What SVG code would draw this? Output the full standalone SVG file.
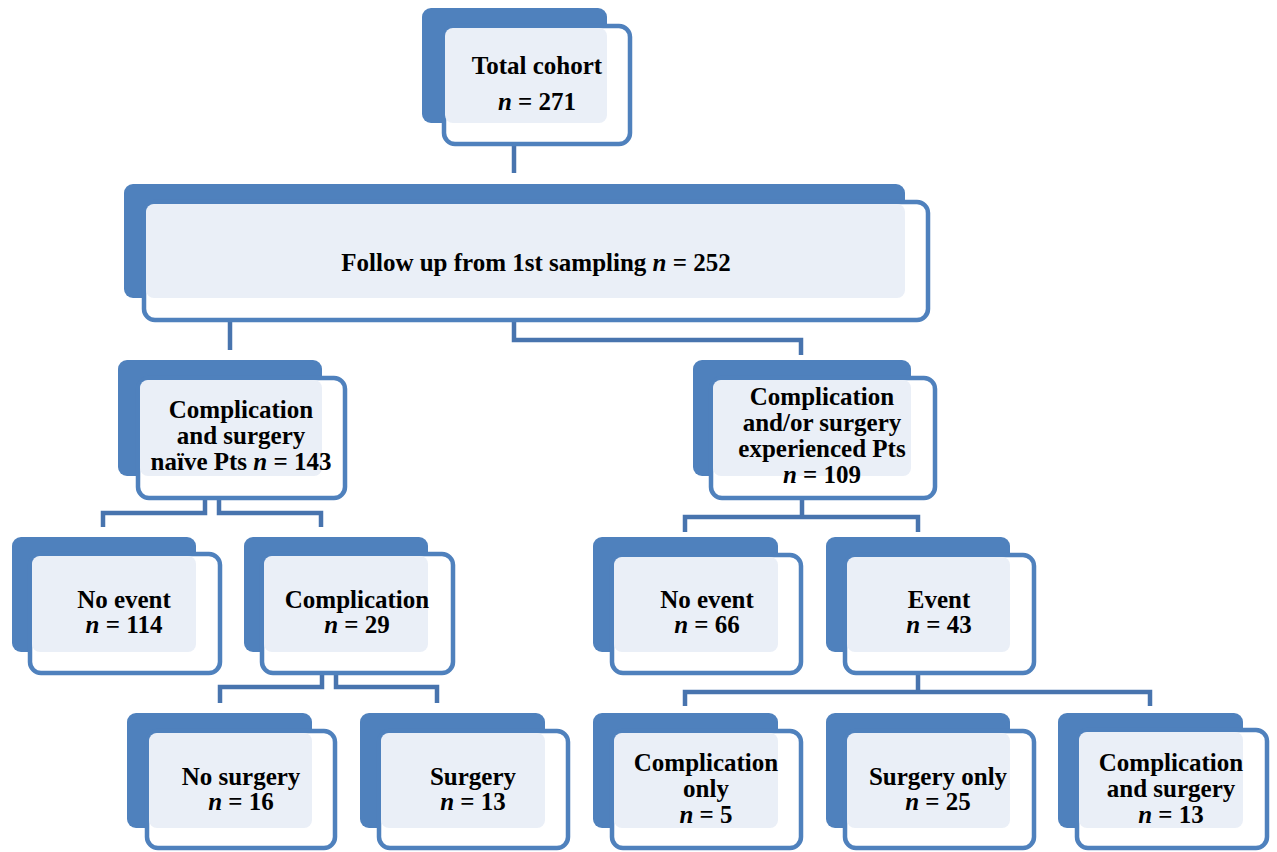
<svg xmlns="http://www.w3.org/2000/svg" width="1277" height="852" viewBox="0 0 1277 852">
<style>
.b{fill:#4F81BD}
.w{fill:#FFFFFF;stroke:#4F81BD;stroke-width:4.5}
.l{fill:#EAEFF7}
.c{fill:none;stroke:#4874AE;stroke-width:4.5;stroke-linejoin:miter}
.s{fill:none;stroke:#E3E9F2;stroke-width:4.5}
.t{font-family:"Liberation Serif","Times New Roman",serif;font-weight:bold;font-size:25px;text-anchor:middle;fill:#000}
.i{font-style:italic}
</style>
<rect width="1277" height="852" fill="#FFFFFF"/>
<g id="connectors">
<path class="s" d="M514,129V144"/>
<path class="c" d="M514,146V173"/>
<path class="s" d="M230,302V320 M514,302V320"/>
<path class="c" d="M230,322V350 M514,322V340H801V355"/>
<path class="s" d="M205,480V498 M219,480V498"/>
<path class="c" d="M205,500V513H103V527 M219,500V513H321V527"/>
<path class="s" d="M802,484V498"/>
<path class="c" d="M802,500V517 M685,532V517H918V532"/>
<path class="s" d="M322,658V673 M336,658V673"/>
<path class="c" d="M322,675V687H220V703 M336,675V687H437V703"/>
<path class="s" d="M918,658V673"/>
<path class="c" d="M918,675V692 M685,706V692H1150V706"/>
</g>
<g id="n-total">
<rect class="b" x="422" y="8" width="185" height="115" rx="9"/>
<rect class="w" x="444" y="26" width="186" height="118" rx="11"/>
<rect class="l" x="445" y="28" width="162" height="95" rx="8"/>
<text class="t" x="537" y="74">Total cohort</text>
<text class="t" x="537" y="110"><tspan class="i">n</tspan> = 271</text>
</g>
<g id="n-follow">
<rect class="b" x="124" y="184" width="781" height="114" rx="9"/>
<rect class="w" x="144" y="202" width="784" height="118" rx="11"/>
<rect class="l" x="146" y="204" width="759" height="94" rx="8"/>
<text class="t" x="536" y="271">Follow up from 1st sampling <tspan class="i">n</tspan> = 252</text>
</g>
<g id="n-naive">
<rect class="b" x="118" y="360" width="204" height="116" rx="9"/>
<rect class="w" x="138" y="378" width="207" height="120" rx="11"/>
<rect class="l" x="140" y="380" width="182" height="96" rx="8"/>
<text class="t" x="241" y="418">Complication</text>
<text class="t" x="241" y="444">and surgery</text>
<text class="t" x="241" y="470">naïve Pts <tspan class="i">n</tspan> = 143</text>
</g>
<g id="n-experienced">
<rect class="b" x="693" y="360" width="218" height="116" rx="9"/>
<rect class="w" x="711" y="378" width="224" height="120" rx="11"/>
<rect class="l" x="713" y="380" width="198" height="96" rx="8"/>
<text class="t" x="822" y="405">Complication</text>
<text class="t" x="822" y="431">and/or surgery</text>
<text class="t" x="822" y="457">experienced Pts</text>
<text class="t" x="822" y="483"><tspan class="i">n</tspan> = 109</text>
</g>
<g id="n-noevent-left">
<rect class="b" x="12" y="537" width="184" height="115" rx="9"/>
<rect class="w" x="30" y="554" width="190" height="119" rx="11"/>
<rect class="l" x="32" y="556" width="164" height="96" rx="8"/>
<text class="t" x="124" y="608">No event</text>
<text class="t" x="124" y="633"><tspan class="i">n</tspan> = 114</text>
</g>
<g id="n-complication">
<rect class="b" x="244" y="537" width="184" height="115" rx="9"/>
<rect class="w" x="262" y="554" width="191" height="119" rx="11"/>
<rect class="l" x="264" y="556" width="164" height="96" rx="8"/>
<text class="t" x="357" y="608">Complication</text>
<text class="t" x="357" y="633"><tspan class="i">n</tspan> = 29</text>
</g>
<g id="n-noevent-right">
<rect class="b" x="593" y="537" width="185" height="115" rx="9"/>
<rect class="w" x="612" y="555" width="189" height="118" rx="11"/>
<rect class="l" x="614" y="557" width="164" height="95" rx="8"/>
<text class="t" x="707" y="608">No event</text>
<text class="t" x="707" y="633"><tspan class="i">n</tspan> = 66</text>
</g>
<g id="n-event">
<rect class="b" x="826" y="537" width="184" height="115" rx="9"/>
<rect class="w" x="845" y="555" width="189" height="118" rx="11"/>
<rect class="l" x="847" y="557" width="163" height="95" rx="8"/>
<text class="t" x="939" y="608">Event</text>
<text class="t" x="939" y="633"><tspan class="i">n</tspan> = 43</text>
</g>
<g id="n-nosurgery">
<rect class="b" x="127" y="713" width="185" height="115" rx="9"/>
<rect class="w" x="147" y="731" width="188" height="117" rx="11"/>
<rect class="l" x="149" y="733" width="163" height="95" rx="8"/>
<text class="t" x="241" y="785">No surgery</text>
<text class="t" x="241" y="810"><tspan class="i">n</tspan> = 16</text>
</g>
<g id="n-surgery">
<rect class="b" x="360" y="713" width="185" height="115" rx="9"/>
<rect class="w" x="379" y="731" width="189" height="117" rx="11"/>
<rect class="l" x="381" y="733" width="164" height="95" rx="8"/>
<text class="t" x="473" y="785">Surgery</text>
<text class="t" x="473" y="810"><tspan class="i">n</tspan> = 13</text>
</g>
<g id="n-complication-only">
<rect class="b" x="593" y="713" width="185" height="115" rx="9"/>
<rect class="w" x="612" y="731" width="189" height="117" rx="11"/>
<rect class="l" x="614" y="733" width="164" height="95" rx="8"/>
<text class="t" x="706" y="771">Complication</text>
<text class="t" x="706" y="797">only</text>
<text class="t" x="706" y="823"><tspan class="i">n</tspan> = 5</text>
</g>
<g id="n-surgery-only">
<rect class="b" x="826" y="713" width="184" height="115" rx="9"/>
<rect class="w" x="845" y="731" width="189" height="117" rx="11"/>
<rect class="l" x="847" y="733" width="163" height="95" rx="8"/>
<text class="t" x="938" y="785">Surgery only</text>
<text class="t" x="938" y="810"><tspan class="i">n</tspan> = 25</text>
</g>
<g id="n-complication-surgery">
<rect class="b" x="1058" y="713" width="185" height="115" rx="9"/>
<rect class="w" x="1077" y="730" width="190" height="118" rx="11"/>
<rect class="l" x="1079" y="732" width="164" height="96" rx="8"/>
<text class="t" x="1171" y="771">Complication</text>
<text class="t" x="1171" y="797">and surgery</text>
<text class="t" x="1171" y="823"><tspan class="i">n</tspan> = 13</text>
</g>
</svg>
